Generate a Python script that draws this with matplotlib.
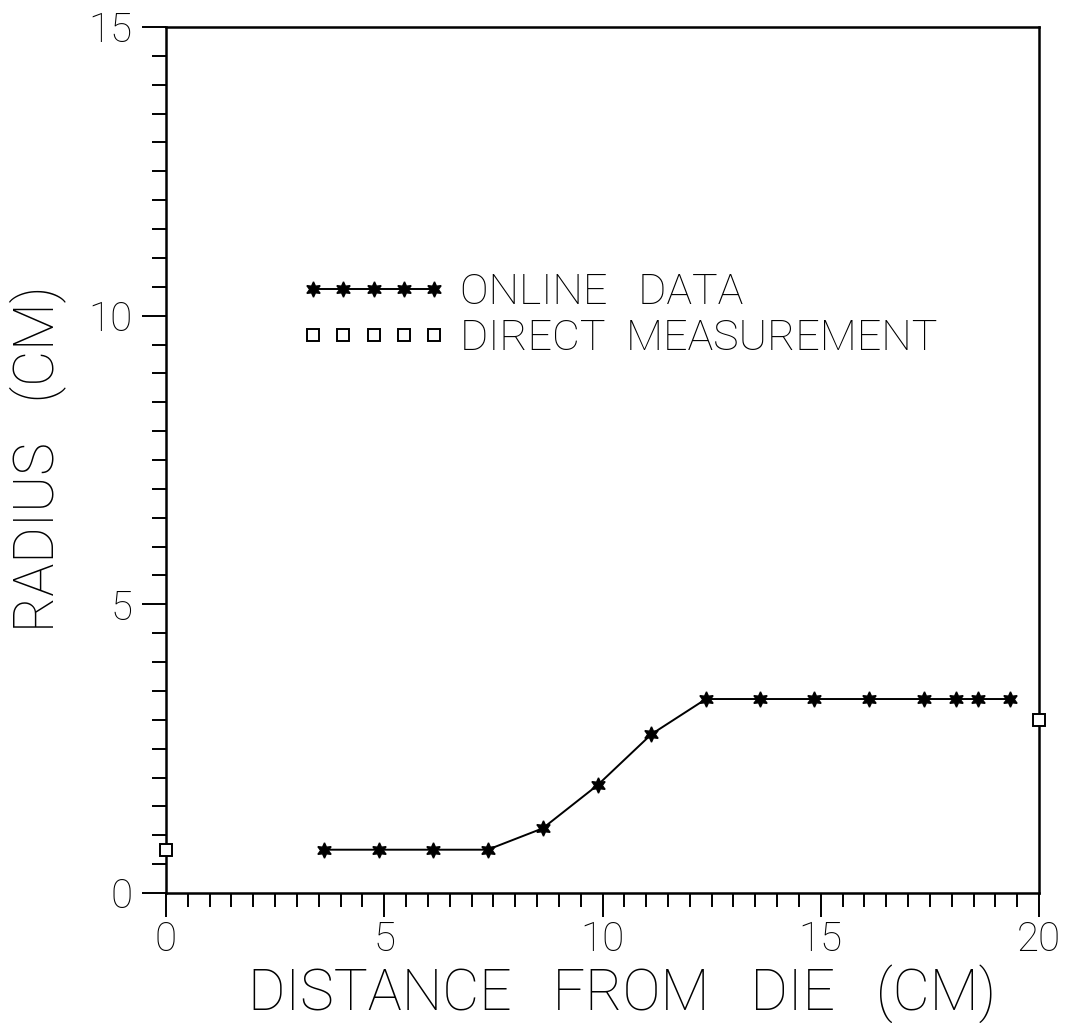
import matplotlib
matplotlib.use("Agg")
import matplotlib.pyplot as plt
from matplotlib.ticker import MultipleLocator

# online radius readings along the extrudate
online_x = [3.63, 4.87, 6.12, 7.37, 8.63, 9.89, 11.12, 12.37,
            13.6, 14.85, 16.11, 17.37, 18.1, 18.6, 19.34]
online_r = [0.75, 0.75, 0.75, 0.75, 1.12, 1.87, 2.75, 3.36,
            3.36, 3.36, 3.36, 3.36, 3.36, 3.36, 3.36]

# caliper measurements at the die and at the end
direct_x = [0.0, 20.0]
direct_r = [0.75, 3.0]

xticks = [0, 5, 10, 15, 20]
yticks = [0, 5, 10, 15]

plt.rcParams['font.family'] = ['Roboto', 'DejaVu Sans']
plt.rcParams['font.weight'] = 'light'

fig = plt.figure(figsize=(10.73, 10.23), dpi=100)
W, H = 1073, 1023
ax = fig.add_axes([166 / W, 1 - 893 / H, (1039 - 166) / W, (893 - 27) / H])

star = (6, 1, 0)
ax.plot(online_x, online_r, color='black', lw=1.4, marker=star,
        ms=11, mec='black', mfc='black', label='ONLINE   DATA', clip_on=False)
ax.plot(direct_x, direct_r, ls='none', marker='s', ms=8, mfc='white',
        mec='black', mew=1.4, label='DIRECT  MEASUREMENT', clip_on=False,
        zorder=5)

ax.set_xlim(0, 20)
ax.set_ylim(0, 15)
ax.set_xticks(xticks)
ax.set_yticks(yticks)
ax.xaxis.set_minor_locator(MultipleLocator(0.5))
ax.yaxis.set_minor_locator(MultipleLocator(0.5))
ax.tick_params(which='major', direction='out', length=17, width=1.4,
               labelsize=29, pad=3, color='black')
ax.tick_params(which='minor', direction='out', length=10, width=1.4)
ax.tick_params(axis='y', which='major', pad=7)
ax.tick_params(top=False, right=False, which='both')
for s in ax.spines.values():
    s.set_linewidth(1.8)

leg = ax.legend(loc='center left', bbox_to_anchor=(0.154, 0.667),
                frameon=False, numpoints=5, handlelength=3.4,
                handletextpad=0.3, borderpad=0, borderaxespad=0,
                labelspacing=0.13, fontsize=31)

fig.text(622 / W, 1 - 1010 / H, 'DISTANCE   FROM   DIE   (CM)', fontsize=41,
         ha='center', va='baseline')
fig.text(38 / W, 1 - 459 / H, 'RADIUS   (CM)', fontsize=40, rotation=90,
         ha='center', va='center')

fig.savefig('out.png', dpi=100)
